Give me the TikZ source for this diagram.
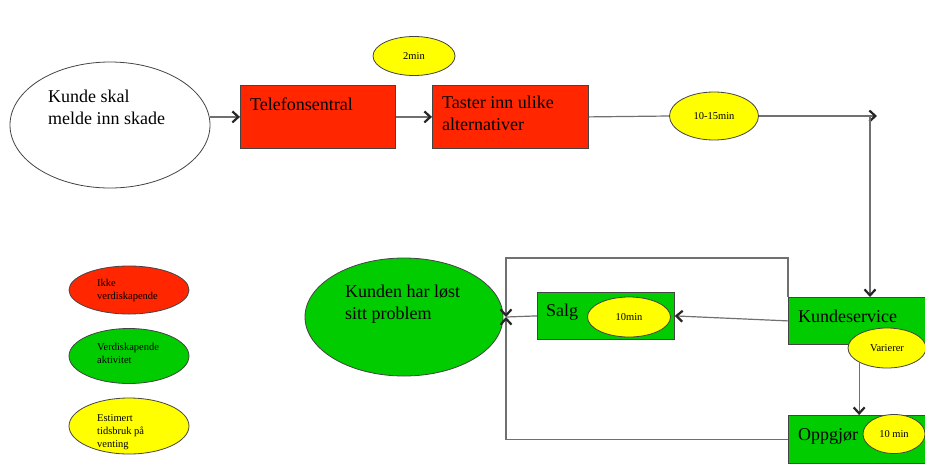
\documentclass[tikz,border=0pt]{standalone}
\usepackage{fontspec}
\setmainfont{Liberation Serif}
\usetikzlibrary{shapes.geometric,arrows.meta,calc}

\definecolor{actred}{HTML}{FF2600}
\definecolor{actgreen}{HTML}{00CC00}
\definecolor{waityellow}{HTML}{FFFF00}
\definecolor{edgegray}{HTML}{444444}
\definecolor{linegray}{HTML}{707070}

\tikzset{
  shapeline/.style={draw=edgegray, line width=0.8pt},
  blob/.style={shapeline, ellipse, inner sep=0pt, minimum width=#1},
  actbox/.style={shapeline, rectangle, anchor=north west, inner sep=0pt},
  bigtxt/.style={font=\fontsize{18}{22}\selectfont, anchor=base west, inner sep=0pt, align=left},
  smalltxt/.style={font=\fontsize{10.5}{13}\selectfont, inner sep=0pt, align=left},
  conn/.style={draw=linegray, line width=1.2pt},
  arr/.style={conn, -{Straight Barb[length=6pt, width=11pt, line width=2.2pt, color=black!85]}},
}

\begin{document}
\begin{tikzpicture}[x=1pt, y=-1pt]
\clip (0,0) rectangle (925,464);
\fill[white] (0,0) rectangle (925,464);

% --- top row -------------------------------------------------------------
\node[blob=200pt, minimum height=126pt, fill=white] (kunde) at (110,125) {};
\node[bigtxt, anchor=north west] (kundeT) at (48,90) {Kunde skal\\melde inn skade};

\node[actbox, fill=actred, minimum width=155pt, minimum height=63pt] (tel) at (240,85) {};
\node[bigtxt] (telT) at (250,110) {Telefonsentral};

\node[blob=82pt, minimum height=39pt, fill=waityellow] (w2) at (414,56) {};
\node[smalltxt] (w2T) at (w2) {2min};

\node[actbox, fill=actred, minimum width=156pt, minimum height=63pt] (tast) at (432,85) {};
\node[bigtxt, anchor=north west] (tastT) at (442,96) {Taster inn ulike\\alternativer};

\node[blob=89pt, minimum height=48pt, fill=waityellow] (w1) at (714,116) {};
\node[smalltxt] (w1T) at (w1) {10-15min};

\coordinate (cEnd) at (877,116);
\coordinate (cTurn) at (870,117);

% --- right column ----------------------------------------------------------
\node[actbox, fill=actgreen, minimum width=145pt, minimum height=47pt] (kd) at (788,297) {};
\node[bigtxt] (kdT) at (798,322) {Kundeservice};

\node[blob=78pt, minimum height=40pt, fill=waityellow] (var) at (887,348) {};
\node[smalltxt] (varT) at (var) {Varierer};

\node[actbox, fill=actgreen, minimum width=145pt, minimum height=48pt] (opp) at (788,415) {};
\node[bigtxt] (oppT) at (798,440) {Oppgjør};

\node[blob=62pt, minimum height=39pt, fill=waityellow] (w4) at (894,434) {};
\node[smalltxt] (w4T) at (w4) {10 min};

% --- middle row ------------------------------------------------------------
\node[actbox, fill=actgreen, minimum width=137pt, minimum height=47pt] (salg) at (537,292) {};
\node[bigtxt] (salgT) at (546,316) {Salg};

\node[blob=83pt, minimum height=40pt, fill=waityellow] (w3) at (629,317) {};
\node[smalltxt] (w3T) at (w3) {10min};

\node[blob=198pt, minimum height=118pt, fill=actgreen] (done) at (404,317) {};
\node[bigtxt, anchor=north west] (doneT) at (345,285) {Kunden har løst\\sitt problem};

\coordinate (xm) at (506,317);

% --- legend ----------------------------------------------------------------
\node[blob=120pt, minimum height=48pt, fill=actred] (legR) at (129,290) {};
\node[smalltxt, anchor=north west] (legRT) at (97,279) {Ikke\\verdiskapende};

\node[blob=120pt, minimum height=55pt, fill=actgreen] (legG) at (129,356) {};
\node[smalltxt, anchor=north west] (legGT) at (97,343) {Verdiskapende\\aktivitet};

\node[blob=120pt, minimum height=56pt, fill=waityellow] (legY) at (129,426) {};
\node[smalltxt, anchor=north west] (legYT) at (97,414) {Estimert\\tidsbruk på\\venting};

% --- connectors ------------------------------------------------------------
\draw[arr] (kunde.east |- tel.west) -- (tel.west);
\draw[arr] (tel.east) -- (tast.west);
\draw[conn] (tast.east) -- (w1.west);
\draw[arr] (w1.east) -- (cEnd);
\draw[arr] (cTurn) -- (cTurn |- kd.north);

\draw[arr] (kd.west) -- (salg.east);
\draw[conn] (salg.west) -- (xm);
\draw[arr] (kd.north west) -- ++(0,-39) -| (xm);
\draw[arr] (opp.west) -| (xm);
\draw[arr] (var.south west) -- (var.south west |- opp.north);
\end{tikzpicture}
\end{document}
